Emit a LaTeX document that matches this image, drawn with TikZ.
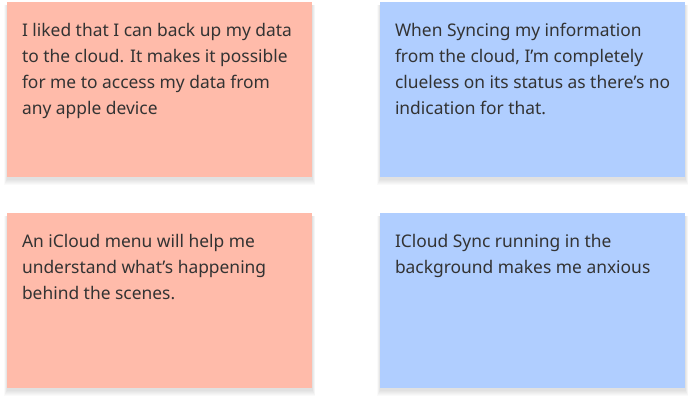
\documentclass[tikz,border=0pt]{standalone}
\usepackage{fontspec}
\setmainfont{Noto Sans}
\usepackage{xcolor}
\usetikzlibrary{calc}
\usetikzlibrary{positioning}
\definecolor{notepink}{HTML}{FFBBAA}
\definecolor{noteblue}{HTML}{B0CEFF}
\definecolor{notetext}{HTML}{333333}
\tikzset{
  note/.style={draw=none, rectangle, inner sep=0, minimum width=305, minimum height=175},
  notetxt/.style={anchor=north west, inner sep=0, align=left, text=notetext,
    font=\fontsize{17.4}{26}\selectfont}
}

\begin{document}
\begin{tikzpicture}[x=1pt, y=-1pt]
\useasboundingbox (0,0) rectangle (692,402);

% soft shadows under the notes
\foreach \cx/\cy in {159.5/89.5, 532.5/89.5, 159.5/300.5, 532.5/300.5} {
  \foreach \s in {1,...,6} {
    \fill[black, opacity=.018] (\cx-152.5-\s/2, \cy-87.5+3) rectangle (\cx+152.5+\s/2, \cy+87.5+2+\s);
  }
}

\node[note, fill=notepink] (liked) at (159.5,89.5) {};
\node[note, fill=noteblue] (sync) at (532.5,89.5) {};
\node[note, fill=notepink] (menu) at (159.5,300.5) {};
\node[note, fill=noteblue] (anxious) at (532.5,300.5) {};

\node[notetxt] (likedtxt) at ($(liked.north west)+(15,21.5)$)
  {I liked that I can back up my data\\to the cloud. It makes it possible\\for me to access my data from\\any apple device};
\node[notetxt] (synctxt) at ($(sync.north west)+(15,21.5)$)
  {When Syncing my information\\from the cloud, I’m completely\\clueless on its status as there’s no\\indication for that.};
\node[notetxt] (menutxt) at ($(menu.north west)+(15,21.5)$)
  {An iCloud menu will help me\\understand what’s happening\\behind the scenes.};
\node[notetxt] (anxioustxt) at ($(anxious.north west)+(15,21.5)$)
  {ICloud Sync running in the\\background makes me anxious};
\end{tikzpicture}
\end{document}
